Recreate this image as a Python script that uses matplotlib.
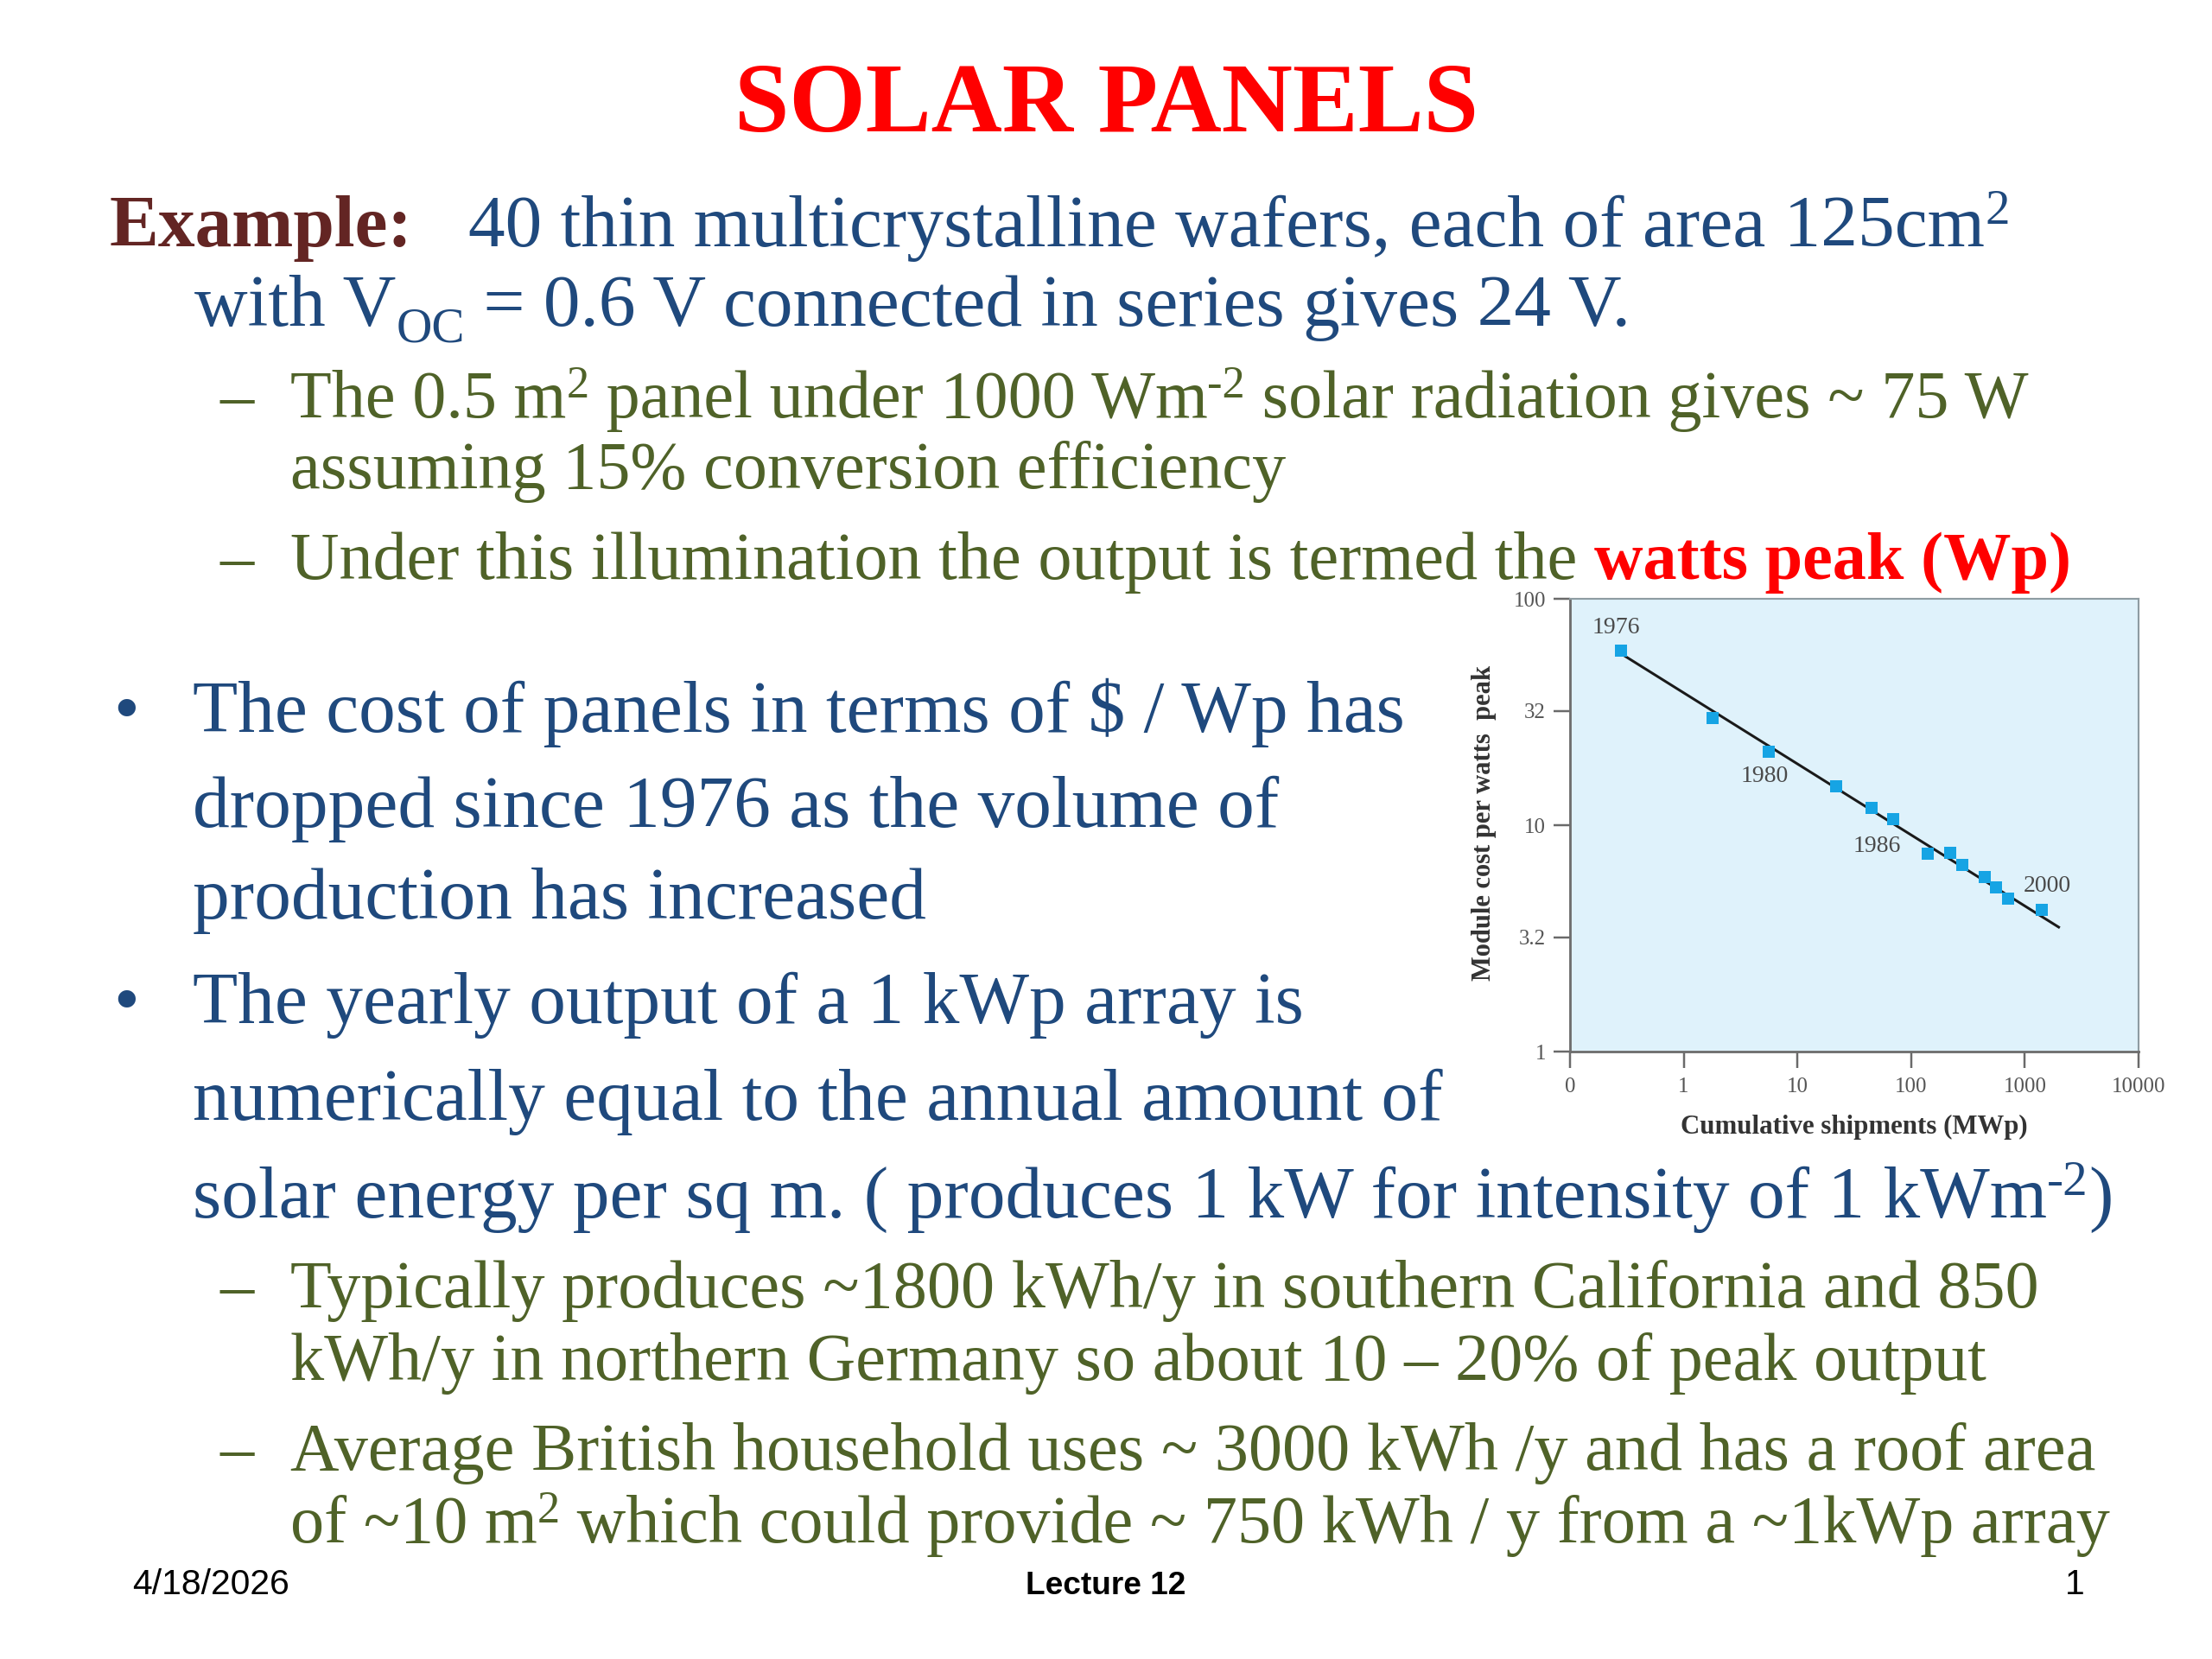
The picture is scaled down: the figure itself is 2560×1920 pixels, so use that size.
import matplotlib
matplotlib.use("Agg")
import matplotlib.pyplot as plt
from matplotlib.ticker import NullLocator

# ---------------- data (chart) ----------------
x_ship = [0.28, 1.78, 5.6, 22, 45, 70, 141, 222, 283, 441, 557, 709, 1406]
y_cost = [59, 29.7, 21.1, 14.9, 11.9, 10.6, 7.46, 7.52, 6.70, 5.90, 5.31, 4.74, 4.22]
fit_x = [0.28, 2030]
fit_y = [57.3, 3.52]
year_labels = ["1976", "1980", "1986", "2000"]
year_x = [0.255, 5.15, 49.8, 1580]
year_y = [74.3, 16.4, 8.04, 5.40]
xtick_vals = [0.1, 1, 10, 100, 1000, 10000]
xtick_labels = ["0", "1", "10", "100", "1000", "10000"]
ytick_vals = [1, 3.2, 10, 32, 100]
ytick_labels = ["1", "3.2", "10", "32", "100"]
xlabel = "Cumulative shipments (MWp)"
ylabel = "Module cost per watts  peak"

# ---------------- text content ----------------
TITLE = "SOLAR PANELS"
MAROON = "#632523"
BLUE = "#1F497D"
GREEN = "#4F6228"
RED = "#FF0000"

W, H, DPI = 2560, 1920, 256
fig = plt.figure(figsize=(W / DPI, H / DPI), dpi=DPI)
fig.patch.set_facecolor("white")
renderer = fig.canvas.get_renderer()
SERIF = "Liberation Serif"


def fx(px):
    return px / W


def fy(py):
    return 1 - py / H


def text_width(s, **kw):
    t1 = fig.text(0, 0, "x" + s + "x", **kw)
    w1 = t1.get_window_extent(renderer).width
    t1.remove()
    t2 = fig.text(0, 0, "xx", **kw)
    w2 = t2.get_window_extent(renderer).width
    t2.remove()
    return w1 - w2


def draw_runs(x, y, size, runs, family=SERIF):
    em = size * DPI / 72.0
    for run in runs:
        s, color = run[0], run[1]
        weight = run[2] if len(run) > 2 else "normal"
        kind = run[3] if len(run) > 3 else "n"
        fs, shift = size, 0.0
        if kind == "sup":
            fs, shift = size * 0.67, 0.30 * em
        elif kind == "sub":
            fs, shift = size * 0.67, -0.22 * em
        kw = dict(fontsize=fs, color=color, fontweight=weight, family=family)
        fig.text(fx(x), fy(y - shift), s, va="baseline", ha="left", **kw)
        x += text_width(s, **kw)


# title
fig.text(fx(1281), fy(152), TITLE, fontsize=32, fontweight="bold", color=RED,
         family=SERIF, ha="center", va="baseline")

segments = [
    (127, 285, 24, [("Example:", MAROON, "bold")]),
    (542, 285, 24, [("40 thin multicrystalline wafers, each of area 125cm", BLUE),
                    ("2", BLUE, "normal", "sup")]),
    (225, 377, 24, [("with V", BLUE), ("OC", BLUE, "normal", "sub"),
                    (" = 0.6 V connected in series gives 24 V.", BLUE)]),
    (255, 483, 22, [("\u2013", GREEN)]),
    (336, 483, 22, [("The 0.5 m", GREEN), ("2", GREEN, "normal", "sup"),
                    (" panel under 1000 Wm", GREEN), ("-2", GREEN, "normal", "sup"),
                    (" solar radiation gives ~ 75 W", GREEN)]),
    (336, 565, 22, [("assuming 15% conversion efficiency", GREEN)]),
    (255, 670, 22, [("\u2013", GREEN)]),
    (336, 670, 22, [("Under this illumination the output is termed the ", GREEN),
                    ("watts peak (Wp)", RED, "bold")]),
    (131, 847, 24, [("\u2022", BLUE)]),
    (223, 847, 24, [("The cost of panels in terms of $ / Wp has", BLUE)]),
    (223, 957, 24, [("dropped since 1976 as the volume of", BLUE)]),
    (223, 1063, 24, [("production has increased", BLUE)]),
    (131, 1184, 24, [("\u2022", BLUE)]),
    (223, 1184, 24, [("The yearly output of a 1 kWp array is", BLUE)]),
    (223, 1296, 24, [("numerically equal to the annual amount of", BLUE)]),
    (223, 1409, 24, [("solar energy per sq m. ( produces 1 kW for intensity of 1 kWm", BLUE),
                     ("-2", BLUE, "normal", "sup"), (")", BLUE)]),
    (255, 1513, 22, [("\u2013", GREEN)]),
    (336, 1513, 22, [("Typically produces ~1800 kWh/y in southern California and 850", GREEN)]),
    (336, 1597, 22, [("kWh/y in northern Germany so about 10 \u2013 20% of peak output", GREEN)]),
    (255, 1701, 22, [("\u2013", GREEN)]),
    (336, 1701, 22, [("Average British household uses ~ 3000 kWh /y and has a roof area", GREEN)]),
    (336, 1785, 22, [("of ~10 m", GREEN), ("2", GREEN, "normal", "sup"),
                     (" which could provide ~ 750 kWh / y from a ~1kWp array", GREEN)]),
]
for x, y, size, runs in segments:
    draw_runs(x, y, size, runs)

# footer
FOOT = "Liberation Sans"
fig.text(fx(153), fy(1845), "4/18/2026", fontsize=11.5, family=FOOT, color="black",
         ha="left", va="baseline")
fig.text(fx(1280), fy(1845), "Lecture 12", fontsize=10.4, family=FOOT, fontweight="bold",
         color="black", ha="center", va="baseline")
fig.text(fx(2401), fy(1845), "1", fontsize=11.5, family=FOOT, color="black",
         ha="center", va="baseline")

# ---------------- chart ----------------
L, R, T, B = 1817, 2475, 693, 1217
ax = fig.add_axes([fx(L), fy(B), (R - L) / W, (B - T) / H])
ax.set_xscale("log")
ax.set_yscale("log")
ax.set_xlim(0.1, 10000)
ax.set_ylim(1, 100)
ax.set_facecolor("#dff2fb")
ax.plot(fit_x, fit_y, color="#1a1a1a", lw=0.85, zorder=2, solid_capstyle="butt")
ax.plot(x_ship, y_cost, "s", color="#16a4e4", ms=3.8, mew=0, zorder=3)
for s, xv, yv in zip(year_labels, year_x, year_y):
    ax.text(xv, yv, s, fontsize=7.8, family=SERIF, color="#4a4a4a",
            ha="center", va="center")

ax.set_xticks(xtick_vals)
ax.set_xticklabels(xtick_labels)
ax.set_yticks(ytick_vals)
ax.set_yticklabels(ytick_labels)
ax.xaxis.set_minor_locator(NullLocator())
ax.yaxis.set_minor_locator(NullLocator())
ax.tick_params(axis="both", direction="out", length=5.3, width=0.7, color="#6a6a6a",
               labelsize=7, labelcolor="#555555")
ax.tick_params(axis="x", pad=3.2)
ax.tick_params(axis="y", pad=2.6)
for lab in ax.get_xticklabels() + ax.get_yticklabels():
    lab.set_family(SERIF)
for side in ["left", "bottom"]:
    ax.spines[side].set_color("#6e6e6e")
    ax.spines[side].set_linewidth(0.8)
for side in ["top", "right"]:
    ax.spines[side].set_color("#8e9ca2")
    ax.spines[side].set_linewidth(0.6)

fig.text(fx(2146), fy(1312), xlabel, fontsize=8.7, fontweight="bold", family=SERIF,
         color="#333333", ha="center", va="baseline")
fig.text(fx(1718), fy(952), ylabel, fontsize=8.6, fontweight="bold", family=SERIF,
         color="#333333", ha="center", va="center", rotation=90)

fig.savefig("out.png", dpi=DPI)
